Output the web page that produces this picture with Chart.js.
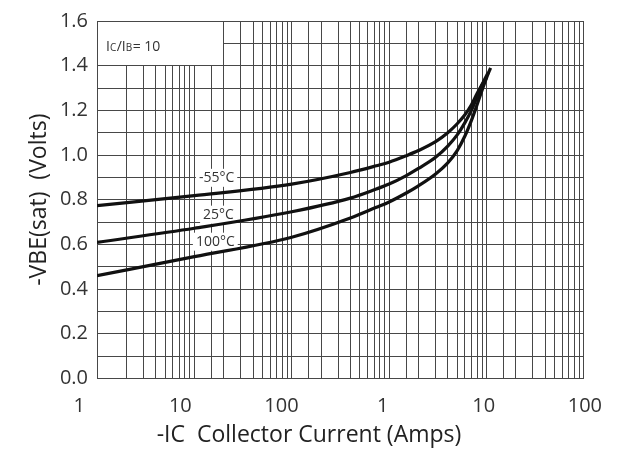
<!DOCTYPE html>
<html>
<head>
<meta charset="utf-8">
<script src="https://cdn.jsdelivr.net/npm/chart.js@4.4.1/dist/chart.umd.min.js"></script>
<style>
  html, body { margin: 0; padding: 0; background: #ffffff; }
  #wrap { width: 618px; height: 459px; }
</style>
</head>
<body>
<div id="wrap"><canvas id="c" width="618" height="459"></canvas></div>
<script>
// ---------- data (collector current in amps, VBE(sat) in volts) ----------
const seriesNames = ['-55°C', '25°C', '100°C'];

const currentM55 = [0.001, 0.01, 0.1, 0.4, 0.74, 1.0, 1.5, 2.0, 3.0, 4.0, 5.0, 6.0, 7.0, 8.0, 9.0, 10.0];
const vbeM55     = [0.773, 0.818, 0.870, 0.922, 0.952, 0.968, 0.997, 1.020, 1.060, 1.100, 1.140, 1.180, 1.225, 1.275, 1.315, 1.345];

const current25  = [0.001, 0.01, 0.1, 0.4, 0.74, 1.0, 1.5, 2.0, 3.0, 4.0, 5.0, 6.0, 7.0, 8.0, 9.0, 10.0, 10.5];
const vbe25      = [0.609, 0.672, 0.746, 0.807, 0.848, 0.870, 0.908, 0.940, 0.990, 1.040, 1.090, 1.145, 1.200, 1.260, 1.315, 1.355, 1.370];

const current100 = [0.001, 0.01, 0.1, 0.4, 0.74, 1.0, 1.5, 2.0, 3.0, 4.0, 5.0, 6.0, 7.0, 8.0, 9.0, 10.0, 11.0];
const vbe100     = [0.460, 0.545, 0.632, 0.718, 0.766, 0.790, 0.830, 0.862, 0.915, 0.965, 1.020, 1.085, 1.155, 1.225, 1.290, 1.345, 1.390];

// curve label anchors (data coordinates)
const labelCurrent = [0.0169, 0.0177, 0.0164];
const labelVoltage = [0.898, 0.733, 0.612];

// x tick labels: 1 mA ... 100 A
const xTickLabels = ['1', '10', '100', '1', '10', '100'];

// note: IC/IB = 10 (text parts, sub = small letters)
const noteParts = [
  { t: 'I', sub: false }, { t: 'C', sub: true }, { t: '/I', sub: false },
  { t: 'B', sub: true }, { t: '= 10', sub: false }
];
const noteBoxMaxCurrent = 0.02;
const noteBoxMinVoltage = 1.4;

const yTitle = '-VBE(sat)  (Volts)';
const xTitle = '-IC  Collector Current (Amps)';

// ---------- helpers ----------
function toPoints(xs, ys) { return xs.map((x, i) => ({ x: x, y: ys[i] })); }

const FONT = "'Open Sans', 'Noto Sans', sans-serif";
const gridColor = '#474747';
Chart.defaults.font.family = FONT;

const seriesX = [currentM55, current25, current100];
const seriesY = [vbeM55, vbe25, vbe100];

const annotations = {
  id: 'annotations',
  beforeDatasetsDraw(chart) {
    const { ctx, chartArea: a, scales } = chart;
    const x = scales.x, y = scales.y;
    const al = p => Math.round(p - 0.5); // pixel column/row covered by a 1px grid line
    ctx.save();
    // note box
    const l = al(a.left) + 1, t = al(a.top) + 1;
    const r = al(x.getPixelForValue(noteBoxMaxCurrent));
    const b = al(y.getPixelForValue(noteBoxMinVoltage));
    ctx.fillStyle = '#ffffff';
    ctx.fillRect(l, t, r - l, b - t);
    ctx.fillStyle = '#333333';
    ctx.textAlign = 'left';
    ctx.textBaseline = 'alphabetic';
    let tx = a.left + 9;
    const ty = a.top + 30;
    for (const p of noteParts) {
      ctx.font = (p.sub ? '10px ' : '14px ') + FONT;
      ctx.fillText(p.t, tx, ty);
      tx += ctx.measureText(p.t).width + (p.sub ? 0.5 : 0);
    }
    // curve labels
    ctx.font = '14px ' + FONT;
    ctx.textAlign = 'center';
    ctx.textBaseline = 'middle';
    seriesNames.forEach((name, i) => {
      const px = x.getPixelForValue(labelCurrent[i]);
      const py = y.getPixelForValue(labelVoltage[i]);
      const w = ctx.measureText(name).width;
      ctx.fillStyle = '#ffffff';
      ctx.fillRect(px - w / 2 - 3, py - 9, w + 6, 18);
      ctx.fillStyle = '#333333';
      ctx.fillText(name, px, py);
    });
    ctx.restore();
  }
};

new Chart(document.getElementById('c'), {
  type: 'line',
  data: {
    datasets: seriesNames.map((name, i) => ({
      label: name,
      data: toPoints(seriesX[i], seriesY[i]),
      borderColor: '#111111',
      borderWidth: 3.2,
      pointRadius: 0,
      fill: false,
      cubicInterpolationMode: 'monotone',
      xAxisID: 'x',
      yAxisID: 'y'
    }))
  },
  options: {
    responsive: false,
    devicePixelRatio: 1,
    animation: false,
    parsing: false,
    layout: { padding: { top: 20, right: 0, bottom: 0, left: 0 } },
    plugins: {
      legend: { display: false },
      tooltip: { enabled: false },
      title: {
        display: true,
        position: 'bottom',
        text: xTitle,
        color: '#222222',
        font: { size: 23, weight: 'normal', family: FONT },
        padding: { top: 3, bottom: 10 }
      }
    },
    scales: {
      x: {
        type: 'logarithmic',
        position: 'bottom',
        min: 0.001,
        max: 100,
        grid: { color: gridColor, lineWidth: 1, drawTicks: false },
        border: { color: gridColor, width: 1 },
        ticks: { display: false, autoSkip: false },
        afterFit(s) { s.height = 0; }
      },
      x2: {
        type: 'linear',
        position: 'bottom',
        min: 0.1757,
        max: 4.990,
        grid: { display: false, drawTicks: false },
        border: { display: false },
        afterBuildTicks(s) { s.ticks = xTickLabels.map((_, i) => ({ value: i })); },
        ticks: {
          autoSkip: false,
          maxRotation: 0,
          padding: 16,
          color: '#333333',
          font: { size: 20, family: FONT },
          callback: (v, i) => xTickLabels[i]
        },
        afterFit(s) { s.height = 40; }
      },
      y: {
        type: 'linear',
        position: 'left',
        min: 0,
        max: 1.6,
        grid: { color: gridColor, lineWidth: 1, drawTicks: false },
        border: { color: gridColor, width: 1 },
        ticks: {
          stepSize: 0.1,
          autoSkip: false,
          padding: 9,
          color: '#333333',
          font: { size: 20, family: FONT },
          callback: (v) => { const k = Math.round(v * 10); return k % 2 === 0 ? (k / 10).toFixed(1) : ''; }
        },
        title: {
          display: true,
          text: yTitle,
          color: '#222222',
          font: { size: 23, family: FONT },
          padding: { top: 26, bottom: 0 }
        },
        afterFit(s) { s.width = 97; }
      },
      yRight: {
        type: 'linear',
        position: 'right',
        display: true,
        grid: { display: false, drawTicks: false },
        border: { display: false },
        ticks: { display: false },
        afterFit(s) { s.width = 28; }
      }
    }
  },
  plugins: [annotations]
});
</script>
</body>
</html>
